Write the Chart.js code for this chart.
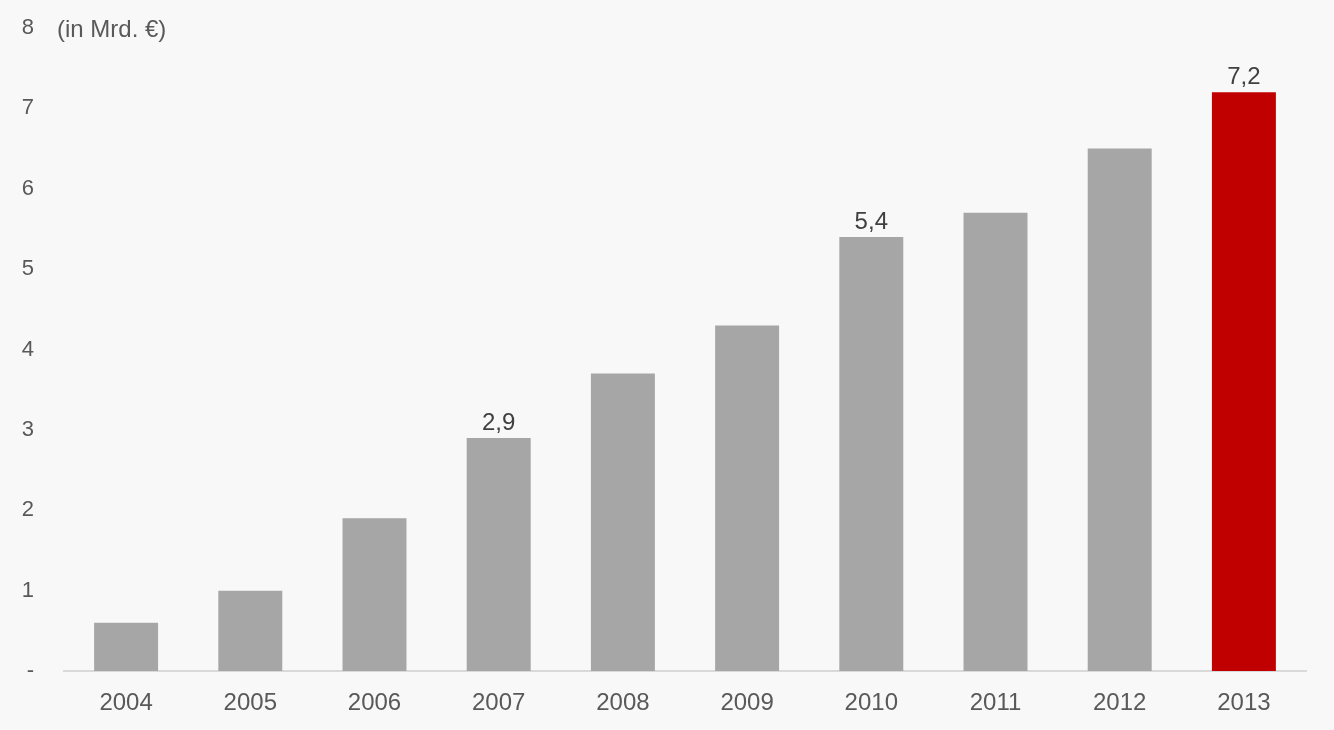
<!DOCTYPE html>
<html>
<head>
<meta charset="utf-8">
<script src="https://cdn.jsdelivr.net/npm/chart.js"></script>
<style>
  html, body { margin: 0; padding: 0; background: #f8f8f8; }
  #wrap { width: 1334px; height: 730px; }
</style>
</head>
<body>
<div id="wrap"><canvas id="chart"></canvas></div>
<script>
// values in Mrd. €
const years = ["2004", "2005", "2006", "2007", "2008", "2009", "2010", "2011", "2012", "2013"];
const values = [0.6, 1.0, 1.9, 2.9, 3.7, 4.3, 5.4, 5.7, 6.5, 7.2];
const labelled = ["2007", "2010", "2013"];
const barColors = ["#a6a6a6", "#a6a6a6", "#a6a6a6", "#a6a6a6", "#a6a6a6",
                   "#a6a6a6", "#a6a6a6", "#a6a6a6", "#a6a6a6", "#c00000"];
const unitText = "(in Mrd. €)";

const font = "'Liberation Sans', Arial, sans-serif";

// value labels above selected bars + unit text next to the top tick
const extras = {
  id: 'extras',
  afterDatasetsDraw(chart) {
    const ctx = chart.ctx;
    const meta = chart.getDatasetMeta(0);
    ctx.save();
    ctx.font = "24px " + font;
    ctx.fillStyle = "#404040";
    ctx.textAlign = "center";
    ctx.textBaseline = "alphabetic";
    meta.data.forEach((bar, i) => {
      if (labelled.includes(years[i])) {
        ctx.fillText(values[i].toFixed(1).replace('.', ','), bar.x, bar.y - 8);
      }
    });
    ctx.font = "24px " + font;
    ctx.fillStyle = "#595959";
    ctx.textAlign = "left";
    ctx.textBaseline = "middle";
    ctx.fillText(unitText, 57, chart.scales.y.getPixelForValue(8) + 2);
    ctx.restore();
  }
};

new Chart("chart", {
  type: 'bar',
  data: {
    labels: years,
    datasets: [{
      data: values,
      backgroundColor: barColors,
      barPercentage: 0.515,
      categoryPercentage: 1
    }]
  },
  options: {
    responsive: true,
    maintainAspectRatio: false,
    animation: false,
    layout: { padding: { top: 0, right: 28, left: 0, bottom: 0 } },
    plugins: {
      legend: { display: false },
      tooltip: { enabled: false }
    },
    scales: {
      x: {
        grid: { display: false, drawTicks: false },
        border: { display: true, color: "#d9d9d9", width: 2 },
        ticks: {
          color: "#595959",
          font: { family: font, size: 24 },
          padding: 18
        },
        afterFit(scale) { scale.height = 59; }
      },
      y: {
        min: 0,
        max: 8,
        grid: { display: false, drawTicks: false },
        border: { display: false },
        ticks: {
          stepSize: 1,
          color: "#595959",
          font: { family: font, size: 22 },
          padding: 30,
          callback: (v) => v === 0 ? '-' : v
        },
        afterFit(scale) {
          scale.width = 64;
          scale.paddingTop = 28;
          scale.paddingBottom = 0;
        }
      }
    }
  },
  plugins: [extras]
});
</script>
</body>
</html>
